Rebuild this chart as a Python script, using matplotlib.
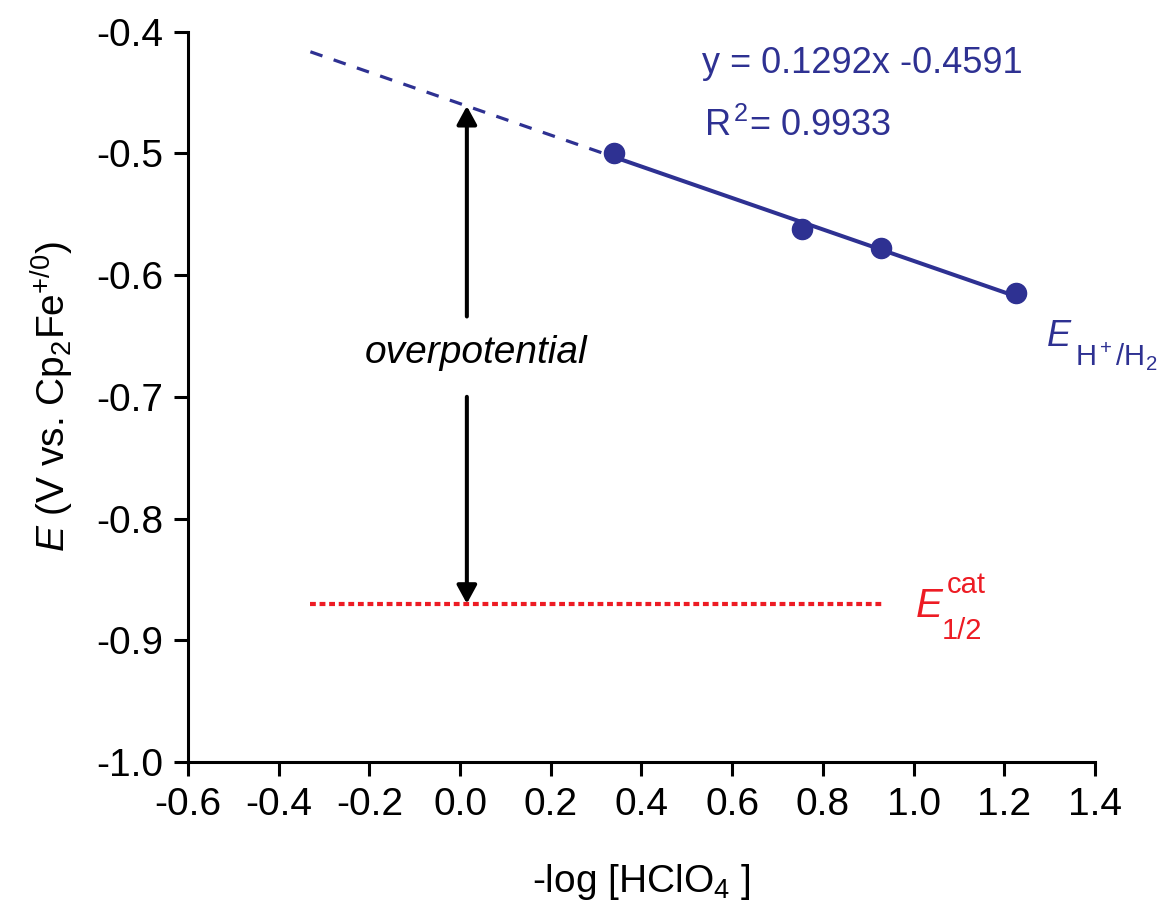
import numpy as np
import matplotlib
matplotlib.use("Agg")
import matplotlib.pyplot as plt

plt.rcParams['font.family'] = ['Liberation Sans', 'DejaVu Sans']
plt.rcParams['mathtext.fontset'] = 'custom'
plt.rcParams['mathtext.rm'] = 'Liberation Sans'
plt.rcParams['mathtext.it'] = 'Liberation Sans:italic'

# data
log_acid = [0.339, 0.754, 0.928, 1.226]
E_h = [-0.500, -0.562, -0.578, -0.615]
slope = -0.1292
intercept = -0.4591
x_extrap_start = -0.33
E_cat = -0.87
x_cat = [-0.33, 0.935]
x_arrow = 0.015

xticks = [-0.6, -0.4, -0.2, 0.0, 0.2, 0.4, 0.6, 0.8, 1.0, 1.2, 1.4]
yticks = [-1.0, -0.9, -0.8, -0.7, -0.6, -0.5, -0.4]

navy = '#2E3192'
red = '#ED1C24'

fig = plt.figure(figsize=(11.6, 9.07), dpi=100)
ax = fig.add_axes([0.162, 0.160, 0.782, 0.805])

# fit line, solid over the data and dashed back towards x = 0
xs = np.array([log_acid[0], log_acid[-1]])
ax.plot(xs, slope * xs + intercept, color=navy, lw=2.9)
xd = np.array([x_extrap_start, log_acid[0]])
ax.plot(xd, slope * xd + intercept, color=navy, lw=2.3, dashes=(4, 3.7))
ax.plot(log_acid, E_h, 'o', color=navy, ms=14.5)

# E1/2 cat line
ax.plot(x_cat, [E_cat, E_cat], color=red, lw=3, dashes=(1.4, 0.9))

# overpotential arrow with a gap for the label
y_top = slope * x_arrow + intercept
head = '-|>,head_length=1.1,head_width=0.6'
ax.annotate('', xy=(x_arrow, y_top), xytext=(x_arrow, -0.634),
            arrowprops=dict(arrowstyle=head, color='black', lw=2.9,
                            shrinkA=0, shrinkB=0))
ax.annotate('', xy=(x_arrow, E_cat), xytext=(x_arrow, -0.700),
            arrowprops=dict(arrowstyle=head, color='black', lw=2.9,
                            shrinkA=0, shrinkB=0))
ax.text(0.035, -0.672, 'overpotential', style='italic', fontsize=28,
        ha='center', va='baseline')

ax.text(0.533, -0.434, 'y = 0.1292x -0.4591', color=navy, fontsize=26, ha='left', va='baseline')
ax.text(0.537, -0.486, r'R$^{\,2}$= 0.9933', color=navy, fontsize=26, ha='left', va='baseline')

# E(H+/H2) label
ax.text(1.292, -0.658, r'$E$', color=navy, fontsize=26, ha='left', va='baseline')
ax.text(1.356, -0.675, r'H$^+$/H$_2$', color=navy, fontsize=21, ha='left', va='baseline')
# E1/2 cat label
ax.text(1.003, -0.881, r'$E$', color=red, fontsize=29, ha='left', va='baseline')
ax.text(1.072, -0.861, 'cat', color=red, fontsize=21, ha='left', va='baseline')
ax.text(1.063, -0.899, '1/2', color=red, fontsize=21, ha='left', va='baseline')

ax.set_xlim(-0.6, 1.4)
ax.set_ylim(-1.0, -0.4)
ax.set_xticks(xticks)
ax.set_yticks(yticks)
ax.set_xticklabels(['%.1f' % v for v in xticks])
ax.set_yticklabels(['%.1f' % v for v in yticks])
ax.tick_params(labelsize=28, width=2.2, length=10, direction='out', pad=8)
for s in ['top', 'right']:
    ax.spines[s].set_visible(False)
for s in ['left', 'bottom']:
    ax.spines[s].set_linewidth(2.2)

ax.set_xlabel(r'-log [HClO$_4$ ]', fontsize=28, labelpad=28)
ax.set_ylabel(r'$E$ (V vs. Cp$_2$Fe$^{+/0}$)', fontsize=28, labelpad=14)

fig.savefig('out.png', dpi=100)
